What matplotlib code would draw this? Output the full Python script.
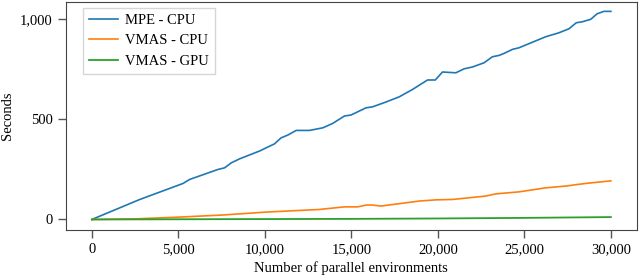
import numpy as np
import matplotlib.pyplot as plt
from matplotlib.ticker import FuncFormatter

plt.rcParams['font.family'] = ['Liberation Serif', 'DejaVu Serif']
plt.rcParams['font.size'] = 10.5

# number of parallel environments vs. seconds
mpe_x = [0, 2770, 5270, 5650, 7290, 7670, 8060, 8540, 9690, 10560, 10940, 11330,
         11810, 12580, 13350, 13920, 14600, 14980, 15850, 16230, 17000, 17770,
         18540, 19400, 19850, 20270, 21040, 21520, 22000, 22670, 23150, 23540,
         23830, 24310, 24690, 26230, 27000, 27580, 28000, 28350, 28830, 29210,
         29600, 30000]
mpe_y = [0, 100, 180, 200, 250, 258, 283, 303, 342, 378, 408, 422, 445, 445, 458,
         480, 517, 522, 558, 563, 587, 613, 650, 697, 697, 737, 733, 753, 762, 783,
         813, 820, 830, 850, 858, 913, 933, 953, 983, 988, 1000, 1028, 1040, 1040]

vmas_cpu_x = [0, 2500, 5080, 7500, 10080, 13150, 14600, 15370, 15850, 16230, 16710,
              18920, 19890, 20850, 22770, 23350, 24690, 26230, 27390, 28540, 30000]
vmas_cpu_y = [0, 3, 12, 22, 37, 50, 63, 63, 72, 72, 67, 92, 98, 100, 117, 128, 138,
              158, 167, 180, 193]

vmas_gpu_x = [0, 5000, 10000, 15000, 20000, 25000, 30000]
vmas_gpu_y = [0, 1, 2, 3, 5, 8, 12]

fig = plt.figure(figsize=(6.4, 2.8), dpi=100)
ax = fig.add_axes([0.103, 0.179, 0.892, 0.814])

ax.plot(mpe_x, mpe_y, color='tab:blue', lw=1.2, label='MPE - CPU')
ax.plot(vmas_cpu_x, vmas_cpu_y, color='tab:orange', lw=1.2, label='VMAS - CPU')
ax.plot(vmas_gpu_x, vmas_gpu_y, color='tab:green', lw=1.3, label='VMAS - GPU')

ax.set_xticks([0, 5000, 10000, 15000, 20000, 25000, 30000])
ax.set_yticks([0, 500, 1000])
fmt = FuncFormatter(lambda v, p: f"{v:,.0f}")
ax.xaxis.set_major_formatter(fmt)
ax.yaxis.set_major_formatter(fmt)
ax.set_xlim(-1500, 31500)
ax.set_ylim(-52, 1087)

for s in ax.spines.values():
    s.set_color('#444444')
ax.tick_params(color='#555555', length=6, width=1)

ax.set_xlabel('Number of parallel environments', labelpad=4)
ax.set_ylabel('Seconds')

leg = ax.legend(loc='upper left', bbox_to_anchor=(0.03, 0.975), borderaxespad=0,
                fancybox=False, edgecolor='#cccccc', handlelength=2.0,
                handletextpad=0.5)

fig.savefig('out.png', dpi=100)
